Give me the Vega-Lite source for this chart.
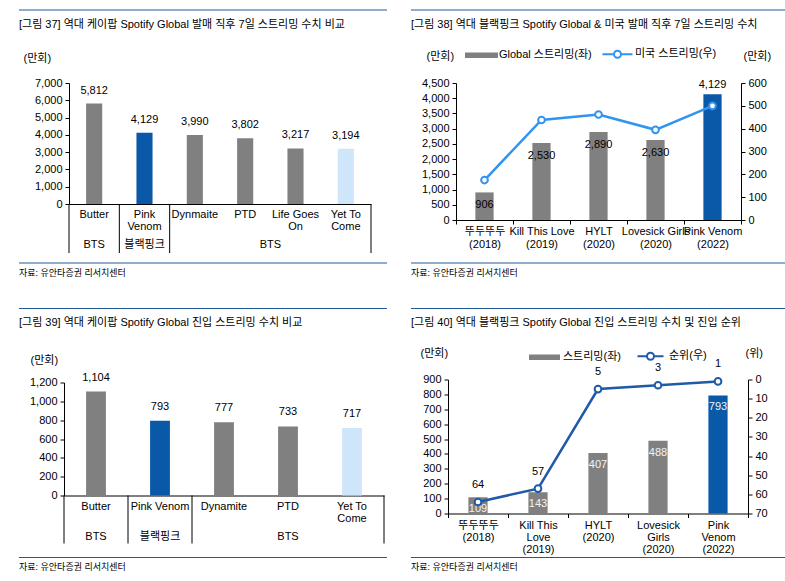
{
  "$schema": "https://vega.github.io/schema/vega-lite/v6.json",
  "padding": {"left": 18, "top": 9, "right": 0, "bottom": 0},
  "datasets": {
    "p37": [
      {"song": "Butter", "label": "Butter", "streams": 5812, "kind": "past"},
      {"song": "Pink Venom", "label": "Pink\nVenom", "streams": 4129, "kind": "blackpink"},
      {"song": "Dynmaite", "label": "Dynmaite", "streams": 3990, "kind": "past"},
      {"song": "PTD", "label": "PTD", "streams": 3802, "kind": "past"},
      {"song": "Life Goes On", "label": "Life Goes\nOn", "streams": 3217, "kind": "past"},
      {"song": "Yet To Come", "label": "Yet To\nCome", "streams": 3194, "kind": "latest"}
    ],
    "p37groups": [
      {"artist": "BTS", "song": "Butter"},
      {"artist": "블랙핑크", "song": "Pink Venom"},
      {"artist": "BTS", "song": "Life Goes On"}
    ],
    "p37starts": [{"song": "Butter"}, {"song": "Pink Venom"}, {"song": "Dynmaite"}],
    "p38": [
      {"label": "뚜두뚜두\n(2018)", "global": 906, "us": 175, "kind": "past"},
      {"label": "Kill This Love\n(2019)", "global": 2530, "us": 438, "kind": "past"},
      {"label": "HYLT\n(2020)", "global": 2890, "us": 462, "kind": "past"},
      {"label": "Lovesick Girls\n(2020)", "global": 2630, "us": 395, "kind": "past"},
      {"label": "Pink Venom\n(2022)", "global": 4129, "us": 500, "kind": "latest"}
    ],
    "p39": [
      {"song": "Butter", "label": "Butter", "streams": 1104, "kind": "past"},
      {"song": "Pink Venom", "label": "Pink Venom", "streams": 793, "kind": "blackpink"},
      {"song": "Dynamite", "label": "Dynamite", "streams": 777, "kind": "past"},
      {"song": "PTD", "label": "PTD", "streams": 733, "kind": "past"},
      {"song": "Yet To Come", "label": "Yet To\nCome", "streams": 717, "kind": "latest"}
    ],
    "p39groups": [
      {"artist": "BTS", "song": "Butter"},
      {"artist": "블랙핑크", "song": "Pink Venom"},
      {"artist": "BTS", "song": "PTD"}
    ],
    "p39starts": [{"song": "Butter"}, {"song": "Pink Venom"}, {"song": "Dynamite"}],
    "p40": [
      {"label": "뚜두뚜두\n(2018)", "streams": 109, "rank": 64, "kind": "past"},
      {"label": "Kill This\nLove\n(2019)", "streams": 143, "rank": 57, "kind": "past"},
      {"label": "HYLT\n(2020)", "streams": 407, "rank": 5, "kind": "past"},
      {"label": "Lovesick\nGirls\n(2020)", "streams": 488, "rank": 3, "kind": "past"},
      {"label": "Pink\nVenom\n(2022)", "streams": 793, "rank": 1, "kind": "latest"}
    ]
  },
  "spacing": 29.5,
  "resolve": {"scale": {"stroke": "independent", "fill": "independent", "color": "independent"}, "legend": {"stroke": "independent"}},
  "vconcat": [
    {
      "spacing": 22,
      "resolve": {"scale": {"stroke": "independent", "fill": "independent", "color": "independent"}, "legend": {"stroke": "independent"}},
      "hconcat": [
        {
          "columns": 1, "spacing": 0, "bounds": "flush",
          "resolve": {"scale": {"stroke": "independent", "fill": "independent", "color": "independent"}, "legend": {"stroke": "independent"}},
          "concat": [
            {"width": 368, "height": 73, "data": {"values": [{}]}, "mark": {"type": "rule", "color": "#215a96", "strokeWidth": 1},
             "encoding": {"y": {"datum": 2, "type": "quantitative", "scale": {"domain": [1, 2]}, "axis": null}}},
            {
              "width": 368, "height": 121,
              "title": {"text": "[그림 37] 역대 케이팝 Spotify Global 발매 직후 7일 스트리밍 수치 비교", "offset": 22.5},
              "data": {"name": "p37"},
              "encoding": {
                "x": {"field": "song", "type": "nominal", "scale": {"domain": ["Butter", "Pink Venom", "Dynmaite", "PTD", "Life Goes On", "Yet To Come"], "range": [50, 352], "paddingInner": 0, "paddingOuter": 0},
                      "axis": {"labels": false, "ticks": false, "title": null}},
                "y": {"field": "streams", "type": "quantitative", "scale": {"domain": [0, 7000]},
                      "axis": {"offset": -50, "values": [0, 1000, 2000, 3000, 4000, 5000, 6000, 7000], "format": ",.0f", "title": "(만회)", "titleX": -46, "titleY": -25}}
              },
              "layer": [
                {"mark": {"type": "bar", "width": {"band": 0.32}},
                 "encoding": {"color": {"field": "kind", "type": "nominal", "scale": {"domain": ["past", "blackpink", "latest"], "range": ["#808080", "#0a58a8", "#cfe5fa"]}, "legend": null}}},
                {"mark": {"type": "text", "dy": -13}, "encoding": {"text": {"field": "streams", "type": "quantitative", "format": ","}}}
              ]
            },
            {
              "width": 368, "height": 49,
              "layer": [
                {"data": {"name": "p37"}, "mark": {"type": "text", "baseline": "top", "dy": -7, "lineBreak": "\n", "lineHeight": 12},
                 "encoding": {
                   "x": {"field": "song", "type": "nominal", "bandPosition": 0.5, "scale": {"domain": ["Butter", "Pink Venom", "Dynmaite", "PTD", "Life Goes On", "Yet To Come"], "range": [50, 352], "paddingInner": 0, "paddingOuter": 0}, "axis": null},
                   "y": {"datum": "l1", "type": "ordinal", "scale": {"domain": ["l1", "l2"], "padding": 0.5}, "axis": null},
                   "text": {"field": "label"}}},
                {"data": {"name": "p37groups"}, "transform": [{"filter": "datum.song !== 'Life Goes On'"}], "mark": {"type": "text", "dy": 4},
                 "encoding": {"x": {"field": "song", "type": "nominal", "bandPosition": 0.5}, "y": {"datum": "l2", "type": "ordinal"}, "text": {"field": "artist"}}},
                {"data": {"name": "p37groups"}, "transform": [{"filter": "datum.song === 'Life Goes On'"}], "mark": {"type": "text", "dy": 4},
                 "encoding": {"x": {"field": "song", "type": "nominal", "bandPosition": 0}, "y": {"datum": "l2", "type": "ordinal"}, "text": {"field": "artist"}}},
                {"data": {"name": "p37starts"}, "mark": {"type": "rule", "color": "#000"},
                 "encoding": {"x": {"field": "song", "type": "nominal", "bandPosition": 0}}},
                {"data": {"name": "p37"}, "transform": [{"filter": "datum.song === 'Yet To Come'"}], "mark": {"type": "rule", "color": "#000"},
                 "encoding": {"x": {"field": "song", "type": "nominal", "bandPosition": 1}}}
              ]
            },
            {"width": 368, "height": 10, "data": {"values": [{}]}, "mark": {"type": "rule", "color": "#215a96", "strokeWidth": 1},
             "encoding": {"y": {"datum": 1, "type": "quantitative", "scale": {"domain": [1, 2]}, "axis": null}},
             "title": {"text": "자료: 유안타증권 리서치센터", "orient": "bottom", "offset": 5, "baseline": "top", "fontSize": 9}}
          ]
        },
        {
          "columns": 1, "spacing": 0, "bounds": "flush",
          "resolve": {"scale": {"stroke": "independent", "fill": "independent", "color": "independent"}, "legend": {"stroke": "independent"}},
          "concat": [
            {"width": 375, "height": 73, "data": {"values": [{}]}, "mark": {"type": "rule", "color": "#215a96", "strokeWidth": 1},
             "encoding": {"y": {"datum": 2, "type": "quantitative", "scale": {"domain": [1, 2]}, "axis": null}}},
            {
              "width": 375, "height": 137,
              "title": {"text": "[그림 38] 역대 블랙핑크 Spotify Global & 미국 발매 직후 7일 스트리밍 수치", "offset": 18},
              "data": {"name": "p38"},
              "encoding": {
                "x": {"field": "label", "type": "nominal", "sort": null, "scale": {"range": [45, 330], "paddingInner": 0, "paddingOuter": 0},
                      "axis": {"title": null, "labelExpr": "split(datum.label, '\\n')", "tickBand": "extent", "labelLineHeight": 13, "labelOverlap": false, "labelBound": false, "labelFlush": false, "labelLimit": 0}}
              },
              "layer": [
                {
                  "encoding": {"y": {"field": "global", "type": "quantitative", "scale": {"domain": [0, 4500]},
                                     "axis": {"offset": -45, "values": [0, 500, 1000, 1500, 2000, 2500, 3000, 3500, 4000, 4500], "format": ",.0f", "title": "(만회)", "titleX": -30, "titleY": -27}}},
                  "layer": [
                    {"mark": {"type": "bar", "width": {"band": 0.32}},
                     "encoding": {"fill": {"field": "kind", "type": "nominal", "scale": {"domain": ["past", "latest"], "range": ["#808080", "#0a58a8"]}, "legend": null}}},
                    {"transform": [{"filter": "datum.kind === 'past'"}], "mark": {"type": "text", "dy": 13},
                     "encoding": {"text": {"field": "global", "type": "quantitative", "format": ","}}},
                    {"transform": [{"filter": "datum.kind === 'latest'"}], "mark": {"type": "text", "dy": -9},
                     "encoding": {"text": {"field": "global", "type": "quantitative", "format": ","}}}
                  ]
                },
                {
                  "encoding": {
                    "y": {"field": "us", "type": "quantitative", "scale": {"domain": [0, 600]},
                          "axis": {"orient": "right", "offset": -45, "values": [0, 100, 200, 300, 400, 500, 600], "title": "(만회)", "titleX": 2, "titleY": -27}},
                    "stroke": {"datum": "미국 스트리밍(우)", "type": "nominal",
                               "scale": {"domain": ["Global 스트리밍(좌)", "미국 스트리밍(우)"], "range": ["#808080", "#3094f0"]},
                               "legend": {"orient": "none", "legendX": 64.5, "legendY": -35, "direction": "horizontal", "title": null, "padding": 0,
                                          "symbolSize": 100, "labelOffset": 11.5, "columnPadding": 6, "symbolOpacity": 1,
                                          "encode": {"symbols": {"update": {
                                            "shape": {"signal": "datum.value === 'Global 스트리밍(좌)' ? 'M-3.1,-0.35H3.1V0.35H-3.1Z' : 'M-3,0H-0.7M0.7,0H3M0.7,0A0.7,0.7 0 1,1 -0.7,0A0.7,0.7 0 1,1 0.7,0'"},
                                            "fill": {"signal": "datum.value === 'Global 스트리밍(좌)' ? '#808080' : '#ffffff'"},
                                            "stroke": {"signal": "datum.value === 'Global 스트리밍(좌)' ? 'transparent' : '#3094f0'"},
                                            "strokeWidth": {"value": 2}, "fillOpacity": {"value": 1}, "strokeOpacity": {"value": 1}}}}}}
                  },
                  "layer": [
                    {"mark": {"type": "line", "strokeWidth": 2.5}},
                    {"mark": {"type": "point", "shape": "circle", "filled": true, "fill": "#ffffff", "size": 45, "strokeWidth": 2, "opacity": 1}}
                  ]
                }
              ],
              "resolve": {"scale": {"y": "independent"}}
            },
            {"width": 375, "height": 43, "data": {"values": [{}]}, "mark": {"type": "rule", "color": "#215a96", "strokeWidth": 1},
             "encoding": {"y": {"datum": 1, "type": "quantitative", "scale": {"domain": [1, 2]}, "axis": null}},
             "title": {"text": "자료: 유안타증권 리서치센터", "orient": "bottom", "offset": 5, "baseline": "top", "fontSize": 9}}
          ]
        }
      ]
    },
    {
      "spacing": 22,
      "resolve": {"scale": {"stroke": "independent", "fill": "independent", "color": "independent"}, "legend": {"stroke": "independent"}},
      "hconcat": [
        {
          "columns": 1, "spacing": 0, "bounds": "flush",
          "resolve": {"scale": {"stroke": "independent", "fill": "independent", "color": "independent"}, "legend": {"stroke": "independent"}},
          "concat": [
            {"width": 368, "height": 74, "data": {"values": [{}]}, "mark": {"type": "rule", "color": "#215a96", "strokeWidth": 1},
             "encoding": {"y": {"datum": 2, "type": "quantitative", "scale": {"domain": [1, 2]}, "axis": null}}},
            {
              "width": 368, "height": 113,
              "title": {"text": "[그림 39] 역대 케이팝 Spotify Global 진입 스트리밍 수치 비교", "offset": 26.5},
              "data": {"name": "p39"},
              "encoding": {
                "x": {"field": "song", "type": "nominal", "scale": {"domain": ["Butter", "Pink Venom", "Dynamite", "PTD", "Yet To Come"], "range": [45, 365], "paddingInner": 0, "paddingOuter": 0},
                      "axis": {"labels": false, "ticks": false, "title": null}},
                "y": {"field": "streams", "type": "quantitative", "scale": {"domain": [0, 1200]},
                      "axis": {"offset": -45, "values": [0, 200, 400, 600, 800, 1000, 1200], "format": ",.0f", "title": "(만회)", "titleX": -34, "titleY": -22}}
              },
              "layer": [
                {"mark": {"type": "bar", "width": {"band": 0.31}},
                 "encoding": {"color": {"field": "kind", "type": "nominal", "scale": {"domain": ["past", "blackpink", "latest"], "range": ["#808080", "#0a58a8", "#cfe5fa"]}, "legend": null}}},
                {"mark": {"type": "text", "dy": -14}, "encoding": {"text": {"field": "streams", "type": "quantitative", "format": ","}}}
              ]
            },
            {
              "width": 368, "height": 48,
              "layer": [
                {"data": {"name": "p39"}, "mark": {"type": "text", "baseline": "top", "dy": -6.3, "lineBreak": "\n", "lineHeight": 12},
                 "encoding": {
                   "x": {"field": "song", "type": "nominal", "bandPosition": 0.5, "scale": {"domain": ["Butter", "Pink Venom", "Dynamite", "PTD", "Yet To Come"], "range": [45, 365], "paddingInner": 0, "paddingOuter": 0}, "axis": null},
                   "y": {"datum": "l1", "type": "ordinal", "scale": {"domain": ["l1", "l2"], "padding": 0.5}, "axis": null},
                   "text": {"field": "label"}}},
                {"data": {"name": "p39groups"}, "mark": {"type": "text", "dy": 5},
                 "encoding": {"x": {"field": "song", "type": "nominal", "bandPosition": 0.5}, "y": {"datum": "l2", "type": "ordinal"}, "text": {"field": "artist"}}},
                {"data": {"name": "p39starts"}, "mark": {"type": "rule", "color": "#000"},
                 "encoding": {"x": {"field": "song", "type": "nominal", "bandPosition": 0}}},
                {"data": {"name": "p39"}, "transform": [{"filter": "datum.song === 'Yet To Come'"}], "mark": {"type": "rule", "color": "#000"},
                 "encoding": {"x": {"field": "song", "type": "nominal", "bandPosition": 1}}}
              ]
            },
            {"width": 368, "height": 14, "data": {"values": [{}]}, "mark": {"type": "rule", "color": "#215a96", "strokeWidth": 1},
             "encoding": {"y": {"datum": 1, "type": "quantitative", "scale": {"domain": [1, 2]}, "axis": null}},
             "title": {"text": "자료: 유안타증권 리서치센터", "orient": "bottom", "offset": 5, "baseline": "top", "fontSize": 9}}
          ]
        },
        {
          "columns": 1, "spacing": 0, "bounds": "flush",
          "resolve": {"scale": {"stroke": "independent", "fill": "independent", "color": "independent"}, "legend": {"stroke": "independent"}},
          "concat": [
            {"width": 375, "height": 71, "data": {"values": [{}]}, "mark": {"type": "rule", "color": "#215a96", "strokeWidth": 1},
             "encoding": {"y": {"datum": 2, "type": "quantitative", "scale": {"domain": [1, 2]}, "axis": null}}},
            {
              "width": 375, "height": 134,
              "title": {"text": "[그림 40] 역대 블랙핑크 Spotify Global 진입 스트리밍 수치 및 진입 순위", "offset": 19.5},
              "data": {"name": "p40"},
              "encoding": {
                "x": {"field": "label", "type": "nominal", "sort": null, "scale": {"range": [37, 337], "paddingInner": 0, "paddingOuter": 0},
                      "axis": {"title": null, "labelExpr": "split(datum.label, '\\n')", "tickBand": "extent", "labelLineHeight": 12, "labelOverlap": false, "labelBound": false, "labelFlush": false, "labelLimit": 0}}
              },
              "layer": [
                {
                  "encoding": {"y": {"field": "streams", "type": "quantitative", "scale": {"domain": [0, 900]},
                                     "axis": {"offset": -37, "values": [0, 100, 200, 300, 400, 500, 600, 700, 800, 900], "title": "(만회)", "titleX": -28, "titleY": -26}}},
                  "layer": [
                    {"mark": {"type": "bar", "width": {"band": 0.32}},
                     "encoding": {"fill": {"field": "kind", "type": "nominal", "scale": {"domain": ["past", "latest"], "range": ["#808080", "#0a58a8"]}, "legend": null}}},
                    {"mark": {"type": "text", "dy": 12, "color": "#f4f4f4"},
                     "encoding": {"text": {"field": "streams", "type": "quantitative"}}}
                  ]
                },
                {
                  "encoding": {
                    "y": {"field": "rank", "type": "quantitative", "scale": {"domain": [0, 70], "reverse": true},
                          "axis": {"orient": "right", "offset": -38, "values": [0, 10, 20, 30, 40, 50, 60, 70], "title": "(위)", "titleX": -3, "titleY": -26}},
                    "stroke": {"datum": "순위(우)", "type": "nominal",
                               "scale": {"domain": ["스트리밍(좌)", "순위(우)"], "range": ["#808080", "#1f5aa8"]},
                               "legend": {"orient": "none", "legendX": 127.5, "legendY": -29.5, "direction": "horizontal", "title": null, "padding": 0,
                                          "symbolSize": 100, "labelOffset": 12.5, "columnPadding": 12, "symbolOpacity": 1,
                                          "encode": {"symbols": {"update": {
                                            "shape": {"signal": "datum.value === '스트리밍(좌)' ? 'M-2.9,-0.35H2.9V0.35H-2.9Z' : 'M-2.6,0H-0.7M0.7,0H2.6M0.7,0A0.7,0.7 0 1,1 -0.7,0A0.7,0.7 0 1,1 0.7,0'"},
                                            "fill": {"signal": "datum.value === '스트리밍(좌)' ? '#808080' : '#ffffff'"},
                                            "stroke": {"signal": "datum.value === '스트리밍(좌)' ? 'transparent' : '#1f5aa8'"},
                                            "strokeWidth": {"value": 2}, "fillOpacity": {"value": 1}, "strokeOpacity": {"value": 1}}}}}}
                  },
                  "layer": [
                    {"mark": {"type": "line", "strokeWidth": 2.5}},
                    {"mark": {"type": "point", "shape": "circle", "filled": true, "fill": "#ffffff", "size": 45, "strokeWidth": 2, "opacity": 1}},
                    {"mark": {"type": "text", "dy": -17}, "encoding": {"text": {"field": "rank", "type": "quantitative"}, "stroke": {"value": null}}}
                  ]
                }
              ],
              "resolve": {"scale": {"y": "independent"}}
            },
            {"width": 375, "height": 44, "data": {"values": [{}]}, "mark": {"type": "rule", "color": "#215a96", "strokeWidth": 1},
             "encoding": {"y": {"datum": 1, "type": "quantitative", "scale": {"domain": [1, 2]}, "axis": null}},
             "title": {"text": "자료: 유안타증권 리서치센터", "orient": "bottom", "offset": 5, "baseline": "top", "fontSize": 9}}
          ]
        }
      ]
    }
  ],
  "config": {
    "view": {"stroke": null},
    "font": "Liberation Sans, Noto Sans CJK KR, sans-serif",
    "title": {"font": "Liberation Sans Narrow, Liberation Sans, Noto Sans CJK KR, sans-serif", "fontSize": 11, "fontWeight": "normal", "color": "#000", "anchor": "start", "frame": "group", "baseline": "bottom"},
    "text": {"font": "Liberation Sans, Noto Sans CJK KR, sans-serif", "fontSize": 11, "color": "#000", "baseline": "middle"},
    "axis": {"labelFont": "Liberation Sans, Noto Sans CJK KR, sans-serif", "labelFontSize": 11, "labelColor": "#000",
             "titleFont": "Liberation Sans, Noto Sans CJK KR, sans-serif", "titleFontSize": 11, "titleFontWeight": "normal", "titleColor": "#000",
             "domainColor": "#000", "tickColor": "#000", "grid": false},
    "axisY": {"titleAngle": 0, "titleAlign": "left", "titleBaseline": "middle", "tickSize": 4, "labelPadding": 3},
    "axisX": {"tickSize": 4, "labelPadding": 1.5, "labelAngle": 0},
    "legend": {"labelFont": "Liberation Sans, Noto Sans CJK KR, sans-serif", "labelFontSize": 11, "labelColor": "#000"}
  }
}
